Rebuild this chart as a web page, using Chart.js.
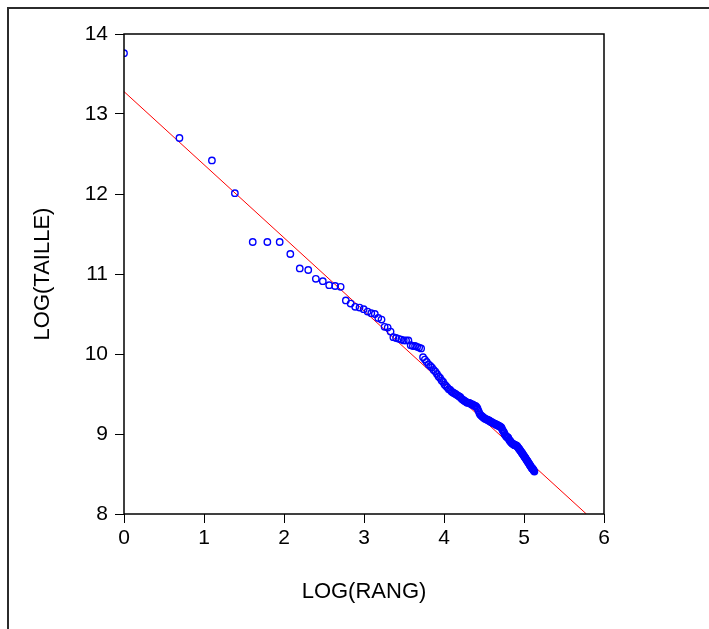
<!DOCTYPE html>
<html>
<head>
<meta charset="utf-8">
<script src="https://cdn.jsdelivr.net/npm/chart.js@4.4.1/dist/chart.umd.min.js"></script>
<style>
  html, body { margin: 0; padding: 0; background: #fff; }
  #wrap { position: relative; width: 709px; height: 629px; }
  #frame {
    position: absolute; left: 7px; top: 7px; right: 0; bottom: 0;
    border-top: 2px solid #2b2b2b; border-left: 2px solid #2b2b2b;
  }
  #c { position: absolute; left: 0; top: 0; }
</style>
</head>
<body>
<div id="wrap">
  <div id="frame"></div>
  <canvas id="c" width="709" height="629"></canvas>
</div>
<script>
// log(rank) of each observation
const logRang = [
  0.000, 0.693, 1.099, 1.386, 1.609, 1.792, 1.946, 2.079, 2.197, 2.303,
  2.398, 2.485, 2.565, 2.639, 2.708, 2.773, 2.833, 2.890, 2.944, 2.996,
  3.045, 3.091, 3.135, 3.178, 3.219, 3.258, 3.296, 3.332, 3.367, 3.401,
  3.434, 3.466, 3.497, 3.526, 3.555, 3.584, 3.611, 3.638, 3.664, 3.689,
  3.714, 3.738, 3.761, 3.784, 3.807, 3.829, 3.850, 3.871, 3.892, 3.912,
  3.932, 3.951, 3.970, 3.989, 4.007, 4.025, 4.043, 4.060, 4.078, 4.094,
  4.111, 4.127, 4.143, 4.159, 4.174, 4.190, 4.205, 4.220, 4.234, 4.248,
  4.263, 4.277, 4.290, 4.304, 4.317, 4.331, 4.344, 4.357, 4.369, 4.382,
  4.394, 4.407, 4.419, 4.431, 4.443, 4.454, 4.466, 4.477, 4.489, 4.500,
  4.511, 4.522, 4.533, 4.543, 4.554, 4.564, 4.575, 4.585, 4.595, 4.605,
  4.615, 4.625, 4.635, 4.644, 4.654, 4.663, 4.673, 4.682, 4.691, 4.700,
  4.710, 4.718, 4.727, 4.736, 4.745, 4.754, 4.762, 4.771, 4.779, 4.787,
  4.796, 4.804, 4.812, 4.820, 4.828, 4.836, 4.844, 4.852, 4.860, 4.868,
  4.875, 4.883, 4.890, 4.898, 4.905, 4.913, 4.920, 4.927, 4.934, 4.942,
  4.949, 4.956, 4.963, 4.970, 4.977, 4.984, 4.990, 4.997, 5.004, 5.011,
  5.017, 5.024, 5.030, 5.037, 5.043, 5.050, 5.056, 5.063, 5.069, 5.075,
  5.081, 5.088, 5.094, 5.100, 5.106, 5.112, 5.118, 5.124, 5.130
];
// log(size), same order
const logTaille = [
  13.76, 12.70, 12.42, 12.01, 11.40, 11.40, 11.40, 11.25, 11.07, 11.05,
  10.94, 10.91, 10.86, 10.85, 10.84, 10.67, 10.63, 10.59, 10.58, 10.56,
  10.53, 10.51, 10.50, 10.45, 10.43, 10.34, 10.33, 10.28, 10.21, 10.20,
  10.19, 10.18, 10.17, 10.17, 10.17, 10.11, 10.10, 10.10, 10.09, 10.08,
  10.07, 9.96, 9.93, 9.90, 9.87, 9.85, 9.83, 9.80, 9.78, 9.75,
  9.72, 9.70, 9.67, 9.65, 9.62, 9.60, 9.58, 9.56, 9.55, 9.53,
  9.52, 9.51, 9.50, 9.49, 9.48, 9.47, 9.46, 9.44, 9.43, 9.42,
  9.41, 9.40, 9.39, 9.39, 9.39, 9.38, 9.37, 9.37, 9.36, 9.35,
  9.35, 9.34, 9.32, 9.29, 9.26, 9.24, 9.23, 9.22, 9.21, 9.20,
  9.19, 9.19, 9.18, 9.18, 9.17, 9.17, 9.16, 9.15, 9.15, 9.14,
  9.14, 9.13, 9.13, 9.12, 9.12, 9.11, 9.11, 9.10, 9.10, 9.09,
  9.09, 9.08, 9.06, 9.04, 9.03, 9.01, 8.99, 8.98, 8.97, 8.96,
  8.96, 8.95, 8.93, 8.92, 8.91, 8.90, 8.89, 8.88, 8.88, 8.87,
  8.87, 8.86, 8.86, 8.86, 8.85, 8.85, 8.84, 8.83, 8.82, 8.81,
  8.80, 8.79, 8.78, 8.77, 8.76, 8.75, 8.74, 8.73, 8.72, 8.71,
  8.70, 8.69, 8.68, 8.67, 8.66, 8.65, 8.64, 8.63, 8.62, 8.61,
  8.60, 8.59, 8.58, 8.57, 8.57, 8.56, 8.55, 8.54, 8.53
];
// fitted regression line end points
const fitX = [0, 5.78];
const fitY = [13.28, 8.0];

const xTicks = [0, 1, 2, 3, 4, 5, 6];
const yTicks = [8, 9, 10, 11, 12, 13, 14];

const FONT = 'Liberation Sans, Arial, sans-serif';

// black box round the plot area
const plotFrame = {
  id: 'plotFrame',
  afterDatasetsDraw(chart) {
    const a = chart.chartArea, ctx = chart.ctx;
    ctx.save();
    ctx.strokeStyle = '#000';
    ctx.lineWidth = 1.5;
    ctx.strokeRect(a.left, a.top, a.right - a.left, a.bottom - a.top);
    ctx.restore();
  }
};

new Chart(document.getElementById('c'), {
  type: 'scatter',
  data: {
    datasets: [
      {
        data: logRang.map((x, i) => ({ x: x, y: logTaille[i] })),
        pointStyle: 'circle',
        pointRadius: 3.2,
        borderWidth: 1.4,
        borderColor: '#0000ff',
        backgroundColor: 'rgba(0,0,0,0)',
        clip: 0
      },
      {
        type: 'line',
        data: fitX.map((x, i) => ({ x: x, y: fitY[i] })),
        borderColor: '#ff0000',
        borderWidth: 1,
        pointRadius: 0,
        fill: false,
        clip: 0
      }
    ]
  },
  options: {
    responsive: false,
    animation: false,
    layout: { padding: { left: 0, top: 34, right: 105, bottom: 0 } },
    plugins: { legend: { display: false }, tooltip: { enabled: false } },
    scales: {
      x: {
        type: 'linear', min: 0, max: 6,
        afterBuildTicks: s => { s.ticks = xTicks.map(v => ({ value: v })); },
        afterFit: s => { s.height = 115; },
        grid: { drawOnChartArea: false, drawTicks: true, tickLength: 9, color: '#000', lineWidth: 1 },
        border: { display: false },
        ticks: { color: '#000', font: { family: FONT, size: 21 }, padding: 3, maxRotation: 0 },
        title: { display: true, text: 'LOG(RANG)', color: '#000', font: { family: FONT, size: 22 }, padding: { bottom: 24 } }
      },
      y: {
        type: 'linear', min: 8, max: 14,
        afterBuildTicks: s => { s.ticks = yTicks.map(v => ({ value: v })); },
        afterFit: s => { s.width = 124; },
        grid: { drawOnChartArea: false, drawTicks: true, tickLength: 9, color: '#000', lineWidth: 1 },
        border: { display: false },
        ticks: { color: '#000', font: { family: FONT, size: 21 }, padding: 7 },
        title: { display: true, text: 'LOG(TAILLE)', color: '#000', font: { family: FONT, size: 22 }, padding: { top: 30 } }
      }
    }
  },
  plugins: [plotFrame]
});
</script>
</body>
</html>
